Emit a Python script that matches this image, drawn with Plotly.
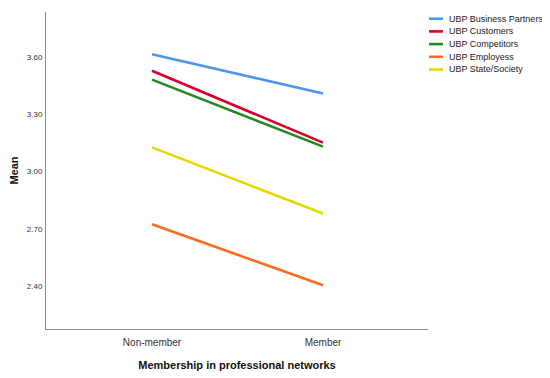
import plotly.graph_objects as go

categories = ["Non-member", "Member"]
series_names = ["UBP Business Partners", "UBP Customers", "UBP Competitors",
                "UBP Employess", "UBP State/Society"]
business_partners = [3.614, 3.408]
customers = [3.527, 3.151]
competitors = [3.481, 3.130]
employees = [2.724, 2.404]
state_society = [3.126, 2.780]
y_ticks = [2.40, 2.70, 3.00, 3.30, 3.60]

colors = ["#4c96ef", "#d7002b", "#238a23", "#ff6a1f", "#e4d800"]
values = [business_partners, customers, competitors, employees, state_society]

FONT = "Liberation Sans, Arial, sans-serif"

# page body has an 8px margin, so the figure is 8px smaller than the window
W, H = 542, 370
L, R, T, B = 38, 122, 4, 49
PW, PH = W - L - R, H - T - B

fig = go.Figure()
for name, vals, col in zip(series_names, values, colors):
    fig.add_trace(go.Scatter(x=categories, y=vals, mode="lines", name=name,
                             line=dict(color=col, width=2.6), showlegend=False))

# legend drawn by hand, SPSS style (compact rows, short swatches)
for i, (name, col) in enumerate(zip(series_names, colors)):
    yy = 1 - (6.7 + i * 12.7) / PH
    fig.add_shape(type="line", xref="paper", yref="paper",
                  x0=1 + 1 / PW, x1=1 + 15 / PW, y0=yy, y1=yy,
                  line=dict(color=col, width=2.6))
    fig.add_annotation(text=name, xref="paper", yref="paper",
                       x=1 + 19 / PW, y=yy, xanchor="left", yanchor="middle",
                       showarrow=False, font=dict(family=FONT, size=9, color="#222"))

fig.update_layout(
    width=W, height=H,
    margin=dict(l=L, r=R, t=T, b=B),
    plot_bgcolor="white", paper_bgcolor="white",
    font=dict(family=FONT, color="#333"),
)
fig.update_xaxes(
    type="category", range=[-0.62, 1.614], automargin=False,
    showline=True, linecolor="#888", linewidth=1, showgrid=False,
    ticks="", ticklabelstandoff=4, tickfont=dict(size=10, color="#333"),
    title=dict(text="<b>Membership in professional networks</b>",
               font=dict(size=11, color="#111"), standoff=14),
)
fig.update_yaxes(
    range=[2.175, 3.835], tickvals=y_ticks, tickformat=".2f", automargin=False,
    showline=True, linecolor="#888", linewidth=1, showgrid=False, zeroline=False,
    ticks="", ticklabelstandoff=1, tickfont=dict(size=8, color="#333"),
    title=dict(text="<b>Mean</b>", font=dict(size=11, color="#111"), standoff=9),
)

fig.write_html("out.html")
